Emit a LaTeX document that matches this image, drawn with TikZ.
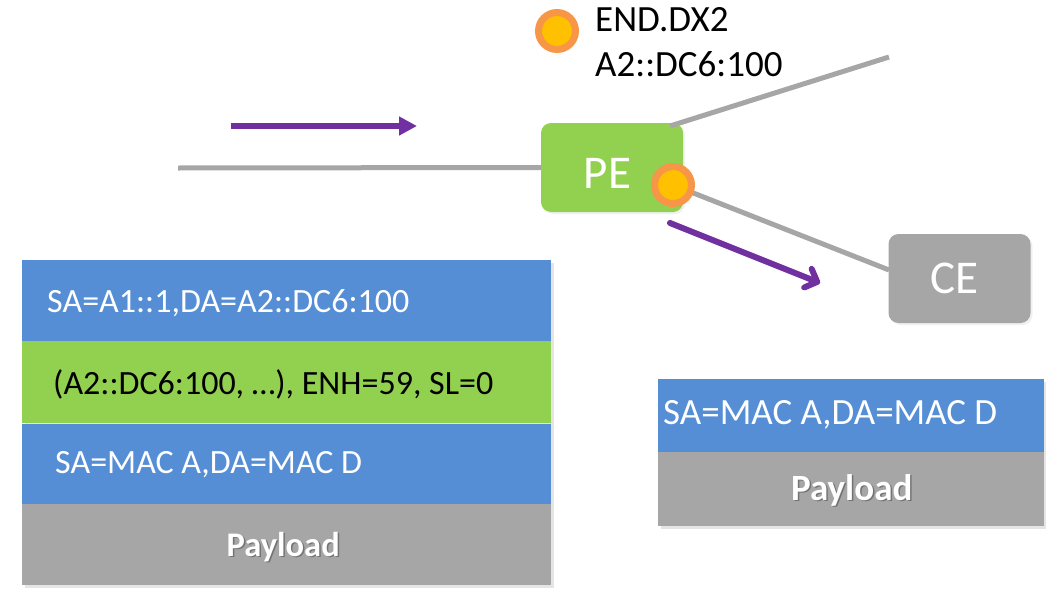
\documentclass[tikz,border=0pt]{standalone}
\usepackage{fontspec}
\setmainfont{Carlito}
\usetikzlibrary{arrows.meta,shadows,calc}
\definecolor{pegreen}{HTML}{92D050}
\definecolor{hdrblue}{HTML}{558ED5}
\definecolor{boxgray}{HTML}{A6A6A6}
\definecolor{linkgray}{HTML}{A6A6A6}
\definecolor{flowpurple}{HTML}{7030A0}
\definecolor{sidorange}{HTML}{F79646}
\definecolor{sidyellow}{HTML}{FFC000}
\tikzset{
  x=1pt, y=-1pt,
  link/.style={draw=linkgray, line width=5pt},
  flow/.style={draw=flowpurple, line width=6pt},
  device/.style={rounded corners=10pt, minimum width=142pt, minimum height=89pt,
    inner sep=0pt,
    drop shadow={opacity=0.12, shadow xshift=2pt, shadow yshift=-2pt}},
  devname/.style={inner sep=0pt, text=white, font=\fontsize{47}{52}\selectfont},
  sid/.style={circle, fill=sidyellow, draw=sidorange, line width=7pt,
    minimum size=37pt, inner sep=0pt,
    drop shadow={opacity=0.25, shadow xshift=2pt, shadow yshift=-2pt}},
  field/.style={rectangle, inner sep=0pt, anchor=north west},
  fieldtext/.style={anchor=west, inner sep=0pt, font=\fontsize{34}{40}\selectfont},
  bigtext/.style={anchor=west, inner sep=0pt, font=\fontsize{37}{44}\selectfont},
  paytext/.style={inner sep=0pt, text=white, font=\fontsize{34.5}{40}\selectfont\bfseries},
  bigpay/.style={inner sep=0pt, text=white, font=\fontsize{37}{44}\selectfont\bfseries},
  label/.style={anchor=west, inner sep=0pt, font=\fontsize{37}{44}\selectfont}
}
\begin{document}
\begin{tikzpicture}
\useasboundingbox (0,0) rectangle (1046,589);

% devices
\node[device, fill=pegreen] (pe) at (612,167.5) {};
\node[devname] (pename) at ($(pe.center)+(-4.5,6)$) {PE};
\node[device, fill=boxgray] (ce) at (959.5,278.5) {};
\node[devname] (cename) at ($(ce.center)+(-5,0)$) {CE};

% links
\coordinate (west) at (178,168);
\coordinate (pecorner) at (670,126);
\coordinate (uplink) at (889,57);
\draw[link] (west) -- (pe.west);
\draw[link] (pecorner) -- (uplink);
\coordinate (sidpos) at (673,185);
\coordinate (cein) at (889,270);
\draw[link] (sidpos) -- (cein);
\node[sid] (sidpe) at (sidpos) {};

% legend
\node[sid] (sidkey) at (557,31) {};
\node[label] (keyname) at (595,20) {END.DX2};
\node[label] (keyaddr) at (595,64) {A2::DC6:100};

% traffic direction
\coordinate (in1) at (231,126);
\coordinate (in2) at (417,126);
\draw[flow, -{Triangle[length=18pt, width=18pt]}] (in1) -- (in2);
\coordinate (out1) at (670,223);
\coordinate (out2) at (820,283);
\draw[flow, line cap=round, -{Straight Barb[length=10pt, width=20pt, line cap=round, line join=round]}] (out1) -- (out2);

% packet before PE
\fill[black, opacity=0.10] (25,263) rectangle (554,588);
\node[field, fill=hdrblue, minimum width=529pt, minimum height=81pt] (ipv6) at (22,260) {};
\node[field, fill=pegreen, minimum width=529pt, minimum height=82pt] (srh) at (22,341) {};
\node[field, fill=hdrblue, minimum width=529pt, minimum height=80pt] (eth1) at (22,424) {};
\node[field, fill=boxgray, minimum width=529pt, minimum height=81pt] (pay1) at (22,504) {};
\node[fieldtext, text=white] at ($(ipv6.west)+(25,2)$) {SA=A1::1,DA=A2::DC6:100};
\node[fieldtext, text=black] at ($(srh.west)+(31,2)$) {(A2::DC6:100, …), ENH=59, SL=0};
\node[fieldtext, text=white] at ($(eth1.west)+(33,0)$) {SA=MAC A,DA=MAC D};
\node[paytext, text=black, opacity=0.3] at ($(pay1.center)+(-2,3.5)$) {Payload};
\node[paytext] at ($(pay1.center)+(-3.5,2)$) {Payload};

% packet after PE
\fill[black, opacity=0.10] (661,382) rectangle (1046,529);
\node[field, fill=hdrblue, minimum width=386pt, minimum height=73pt] (eth2) at (658,379) {};
\node[field, fill=boxgray, minimum width=386pt, minimum height=74pt] (pay2) at (658,452) {};
\node[bigtext, text=white] at ($(eth2.west)+(5,-1)$) {SA=MAC A,DA=MAC D};
\node[bigpay, text=black, opacity=0.3] at ($(pay2.center)+(2,2.5)$) {Payload};
\node[bigpay] at ($(pay2.center)+(0.5,1)$) {Payload};
\end{tikzpicture}
\end{document}
